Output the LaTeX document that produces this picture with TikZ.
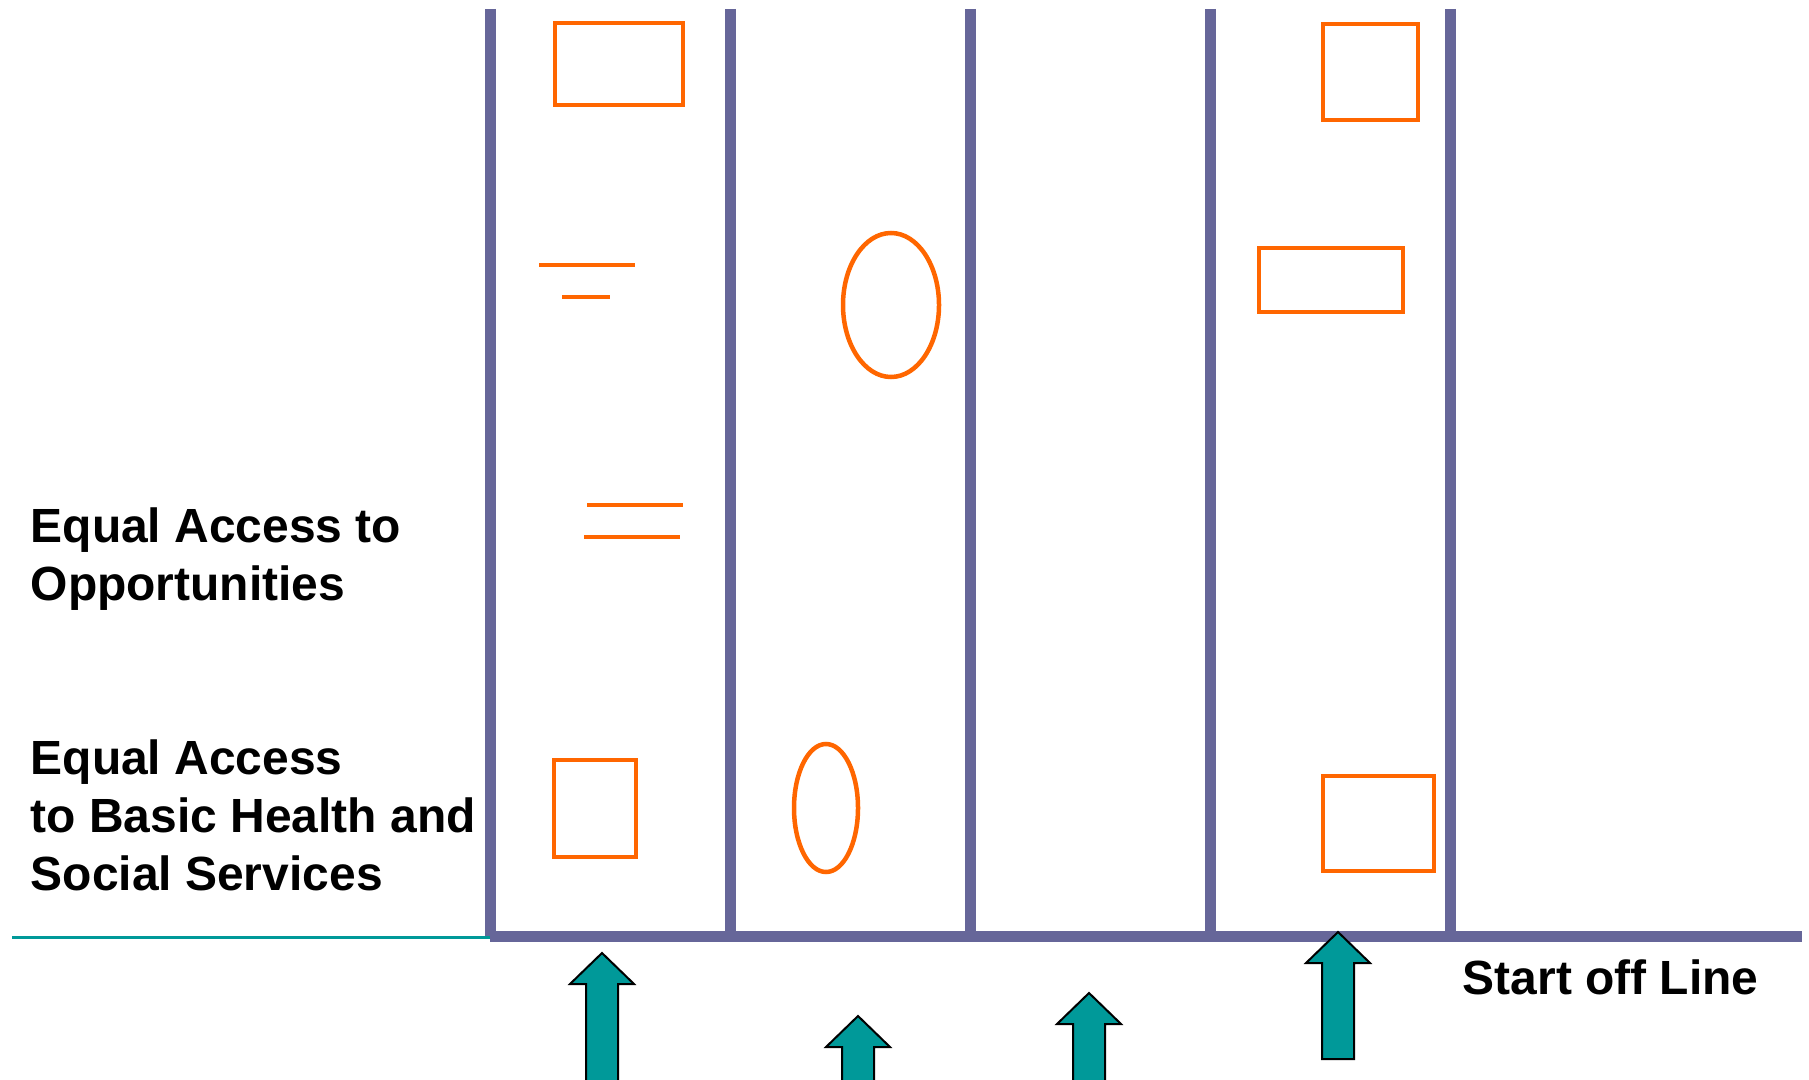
\documentclass[tikz,border=0pt]{standalone}
\usepackage{fontspec}
\setmainfont{Liberation Sans}
\usepackage{tikz}
\usetikzlibrary{positioning}
\definecolor{lanecol}{RGB}{102,102,153}
\definecolor{cuecol}{RGB}{255,102,0}
\definecolor{tealcol}{RGB}{0,153,153}

\begin{document}
\begin{tikzpicture}[
    x=0.1mm, y=-0.1mm,
    laneline/.style={draw=lanecol, line width=1.1mm},
    cueshape/.style={draw=cuecol, line width=0.45mm},
    uparrow/.style={draw=black, line width=0.2mm, fill=tealcol},
    sidetext/.style={font=\fontsize{13.65}{16.4}\selectfont\bfseries, align=left, inner sep=0pt}
]

% Page frame
\useasboundingbox (0,0) rectangle (1809,1079);
\clip (0,0) rectangle (1809,1079);

% Lanes
\foreach \x in {490,730,970,1210,1450}
    \draw[laneline] (\x,9) -- (\x,936);
\draw[laneline] (490,936) -- (1802,936);
\draw[tealcol, line width=0.3mm] (12,937) -- (490,937);

% Shapes in lane 1
\draw[cueshape] (555,23) rectangle (683,105);
\draw[cueshape] (539,265) -- (635,265);
\draw[cueshape] (562,297) -- (610,297);
\draw[cueshape] (587,505) -- (683,505);
\draw[cueshape] (584,537) -- (680,537);
\draw[cueshape] (554,760) rectangle (636,857);

% Shapes in lane 2
\draw[cueshape] (891,305) ellipse [x radius=48, y radius=72];
\draw[cueshape] (826,808) ellipse [x radius=32, y radius=64];

% Shapes in lane 4
\draw[cueshape] (1323,24) rectangle (1418,120);
\draw[cueshape] (1259,248) rectangle (1403,312);
\draw[cueshape] (1323,776) rectangle (1434,871);

% Arrows under the start line
\foreach \x/\t/\b in {602/953/1090, 858/1016/1090, 1089/993/1090, 1338/932/1059}
    \draw[uparrow] (\x,\t) -- (\x+32,\t+31) -- (\x+16,\t+31) -- (\x+16,\b)
        -- (\x-16,\b) -- (\x-16,\t+31) -- (\x-32,\t+31) -- cycle;

% Texts
\node[sidetext, anchor=base west] (opp) at (30,600) {Equal Access to\\Opportunities};
\node[sidetext, anchor=base west] (basic) at (30,890) {Equal Access\\to Basic Health and\\Social Services};
\node[sidetext, anchor=base west] (start) at (1462,994) {Start off Line};

\end{tikzpicture}
\end{document}
